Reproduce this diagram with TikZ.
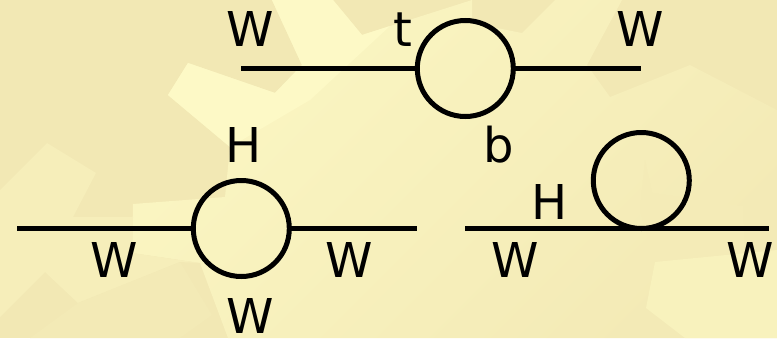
\documentclass[tikz,border=0pt]{standalone}
\usepackage{fontspec}
\setmainfont{DejaVu Sans}
\usetikzlibrary{positioning}
\definecolor{bgdark}{HTML}{F2E8B4}
\definecolor{bgmid}{HTML}{F8F2BD}
\definecolor{bglight}{HTML}{FDF9C6}
\tikzset{
  lbl/.style={anchor=base,inner sep=0pt,font=\fontsize{48}{50}\selectfont},
  prop/.style={line width=5.3pt},
  loopc/.style={circle,draw,line width=5pt,minimum size=96pt,inner sep=0pt,outer sep=0pt},
}
\begin{document}
\begin{tikzpicture}[x=1pt,y=-1pt]
        \useasboundingbox (0,0) rectangle (777,338);
        \fill[bgdark] (0,0) rectangle (777,338);
        % background
        \shade[top color=bglight!60!bgmid,middle color=bgmid,bottom color=bgdark!80!bgmid,shading angle=45] (272,0)--(333,0)--(362,35)--(472,0)--(472,23)--(522,33)--(555,0)--(622,0)--(587,65)--(610,97)--(690,65)
          --(777,110)--(777,338)--(228,338)--(200,263)--(132,253)--(133,204)--(225,197)--(230,147)--(168,95)--(188,63)--(275,93)--(302,65)--cycle;
        \fill[bglight] (272,0)--(333,0)--(362,35)--(390,26)--(310,100)--(230,147)--(168,95)--(188,63)--(275,93)--(302,65)--cycle;
        \fill[bgdark!35!bgmid] (0,190)--(47,143)--(96,173)--(73,217)--(133,217)--(132,253)--(200,263)--(180,262)--(78,303)--(45,272)--(0,317)--cycle;
        \fill[bgdark!70!bgmid] (645,160)--(652,193)--(743,206)--(745,255)--(655,262)--(640,210)--cycle;
        \fill[bgmid] (655,262)--(777,250)--(777,338)--(685,338)--(646,308)--cycle;
        \fill[bgdark!80!bgmid] (180,262)--(212,315)--(180,338)--(30,338)--(78,303)--cycle;
        % top diagram
        \node[loopc] (tb) at (465.3,68.5) {};
        \coordinate (tl) at (241,68.5);
        \coordinate (tr) at (641,68.5);
        \draw[prop] (tl) -- (tb) (tb) -- (tr);
        \node[lbl] (w1) at (250.3,46) {W};
        \node[lbl] (w2) at (640.3,46) {W};
        \node[lbl] (top) at (402.5,46) {t};
        \node[lbl] (bot) at (499,162) {b};
        % left diagram
        \node[loopc] (hw) at (241.3,228.5) {};
        \coordinate (ll) at (17,228.5);
        \coordinate (lr) at (417,228.5);
        \draw[prop] (ll) -- (hw) (hw) -- (lr);
        \node[lbl] (h1) at (243.5,162) {H};
        \node[lbl] (w3) at (114.3,277) {W};
        \node[lbl] (w4) at (348.8,277) {W};
        \node[lbl] (w5) at (250.3,333) {W};
        % right diagram
        \node[loopc] (hh) at (641.3,180.5) {};
        \coordinate (rl) at (465,228.5);
        \coordinate (rr) at (769,228.5);
        \draw[prop] (rl) -- (rr);
        \node[lbl] (h2) at (550,219) {H};
        \node[lbl] (w6) at (515.3,277) {W};
        \node[lbl] (w7) at (750.3,277) {W};
      \end{tikzpicture}
\end{document}
